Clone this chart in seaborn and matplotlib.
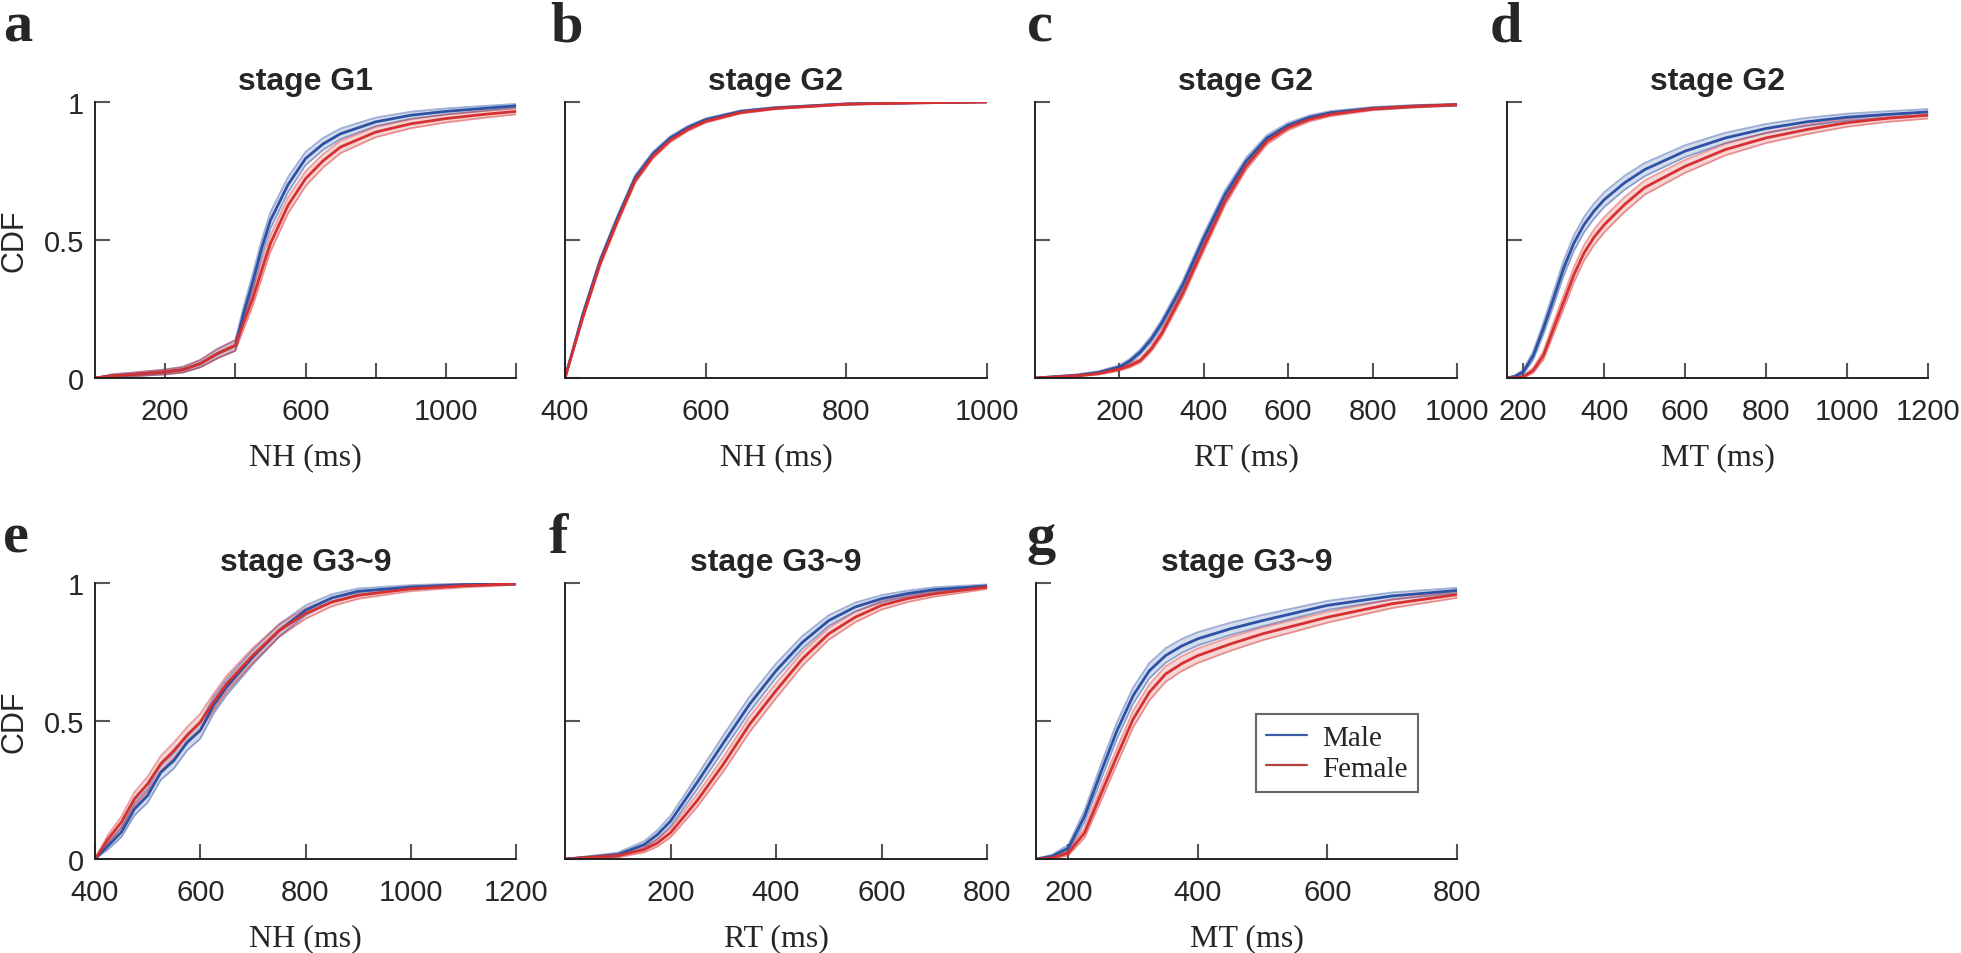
import matplotlib
matplotlib.use("Agg")
import matplotlib.pyplot as plt
from matplotlib.lines import Line2D
import numpy as np
import pandas as pd
import seaborn as sns

# CDF values (male / female), per panel
a_x = [0, 50, 100, 200, 250, 300, 350, 400, 425, 450, 475, 500, 550, 600, 650, 700, 800, 900, 1000, 1100, 1200]
a_male = [0, 0.008, 0.012, 0.022, 0.03, 0.052, 0.089, 0.118, 0.24, 0.35, 0.47, 0.571, 0.70, 0.795, 0.848, 0.885, 0.928, 0.952, 0.966, 0.976, 0.986]
a_female = [0, 0.008, 0.012, 0.022, 0.03, 0.052, 0.089, 0.118, 0.205, 0.29, 0.39, 0.487, 0.625, 0.722, 0.787, 0.837, 0.891, 0.921, 0.94, 0.954, 0.966]

b_x = [400, 425, 450, 475, 500, 525, 550, 575, 600, 650, 700, 800, 900, 1000]
b_male = [0, 0.227, 0.425, 0.582, 0.727, 0.812, 0.870, 0.908, 0.936, 0.966, 0.979, 0.993, 0.997, 1.0]
b_female = [0, 0.217, 0.415, 0.572, 0.717, 0.803, 0.862, 0.901, 0.930, 0.962, 0.977, 0.992, 0.997, 1.0]

c_x = [0, 100, 150, 200, 225, 250, 275, 300, 350, 400, 450, 500, 550, 600, 650, 700, 800, 900, 1000]
c_male = [0, 0.01, 0.02, 0.04, 0.062, 0.095, 0.14, 0.198, 0.337, 0.507, 0.664, 0.785, 0.87, 0.916, 0.944, 0.961, 0.977, 0.985, 0.99]
c_female = [0, 0.008, 0.016, 0.032, 0.045, 0.064, 0.105, 0.161, 0.307, 0.476, 0.64, 0.767, 0.858, 0.907, 0.937, 0.955, 0.975, 0.984, 0.99]

d_x = [160, 180, 200, 225, 250, 275, 300, 325, 350, 375, 400, 450, 500, 600, 700, 800, 900, 1000, 1100, 1200]
d_male = [0, 0.006, 0.022, 0.082, 0.18, 0.288, 0.398, 0.488, 0.555, 0.605, 0.646, 0.707, 0.755, 0.822, 0.87, 0.904, 0.928, 0.945, 0.955, 0.964]
d_female = [0, 0.001, 0.004, 0.028, 0.082, 0.18, 0.276, 0.373, 0.452, 0.51, 0.555, 0.628, 0.69, 0.767, 0.828, 0.87, 0.90, 0.925, 0.941, 0.952]

e_x = [400, 425, 450, 475, 500, 525, 550, 575, 600, 625, 650, 700, 750, 800, 850, 900, 1000, 1100, 1200]
e_male = [0, 0.048, 0.097, 0.181, 0.23, 0.314, 0.357, 0.423, 0.466, 0.556, 0.623, 0.732, 0.828, 0.901, 0.946, 0.97, 0.985, 0.994, 0.997]
e_female = [0, 0.073, 0.133, 0.218, 0.272, 0.345, 0.393, 0.448, 0.496, 0.568, 0.635, 0.738, 0.828, 0.889, 0.931, 0.955, 0.979, 0.99, 0.997]

f_x = [0, 50, 100, 150, 175, 200, 250, 300, 350, 400, 450, 500, 550, 600, 650, 700, 800]
f_male = [0, 0.007, 0.016, 0.052, 0.088, 0.137, 0.276, 0.42, 0.561, 0.682, 0.785, 0.864, 0.913, 0.943, 0.962, 0.976, 0.989]
f_female = [0, 0.006, 0.012, 0.034, 0.058, 0.095, 0.21, 0.343, 0.488, 0.61, 0.725, 0.816, 0.876, 0.919, 0.944, 0.961, 0.985]

g_x = [150, 175, 200, 225, 250, 275, 300, 325, 350, 375, 400, 450, 500, 600, 700, 800]
g_male = [0, 0.01, 0.04, 0.155, 0.313, 0.465, 0.592, 0.682, 0.737, 0.772, 0.798, 0.834, 0.864, 0.919, 0.953, 0.973]
g_female = [0, 0.004, 0.022, 0.095, 0.234, 0.373, 0.507, 0.604, 0.67, 0.708, 0.737, 0.779, 0.816, 0.876, 0.925, 0.958]

# half-width of the shaded band (male, female)
band_hw = {"a": (0.03, 0.03), "b": (0.01, 0.01), "c": (0.016, 0.016), "d": (0.028, 0.028),
           "e": (0.03, 0.03), "f": (0.028, 0.028), "g": (0.03, 0.03)}

letters = ["a", "b", "c", "d", "e", "f", "g"]
titles = ["stage G1", "stage G2", "stage G2", "stage G2", "stage G3~9", "stage G3~9", "stage G3~9"]
xlabels = ["NH (ms)", "NH (ms)", "RT (ms)", "MT (ms)", "NH (ms)", "RT (ms)", "MT (ms)"]
xlims = [(0, 1200), (400, 1000), (0, 1000), (160, 1200), (400, 1200), (0, 800), (150, 800)]
xticks = [[200, 400, 600, 800, 1000, 1200], [400, 600, 800, 1000], [200, 400, 600, 800, 1000],
          [200, 400, 600, 800, 1000, 1200], [400, 600, 800, 1000, 1200], [200, 400, 600, 800],
          [200, 400, 600, 800]]
xticklabels = [["200", "", "600", "", "1000", ""], None, None, None, None, None, None]
panel_data = [(a_x, a_male, a_female), (b_x, b_male, b_female), (c_x, c_male, c_female),
              (d_x, d_male, d_female), (e_x, e_male, e_female), (f_x, f_male, f_female),
              (g_x, g_male, g_female)]

sns.set_style("white")
plt.rcParams["font.family"] = ["Liberation Sans", "DejaVu Sans"]

W, H = 1961, 954
fig = plt.figure(figsize=(W / 100, H / 100), dpi=100)

# axes boxes in pixels: left, right, top, bottom
boxes = [(95, 516, 103, 379), (565, 987, 103, 379), (1035, 1457, 103, 379), (1507, 1928, 103, 379),
         (95, 516, 584, 860), (565, 987, 584, 860), (1036, 1457, 584, 860)]
letter_pos = [(3, 42), (550, 42), (1027, 42), (1490, 42), (3, 553), (549, 553), (1026, 553)]

palette = {"Male": "#2d52a5", "Female": "#d63030"}
serif = ["Liberation Serif", "DejaVu Serif"]

for i, (x, m, f) in enumerate(panel_data):
    l, r, t, b = boxes[i]
    ax = fig.add_axes([l / W, 1 - b / H, (r - l) / W, (b - t) / H])
    df = pd.DataFrame({"x": list(x) * 2, "cdf": list(m) + list(f),
                       "sex": ["Male"] * len(x) + ["Female"] * len(x)})
    hw_m, hw_f = band_hw[letters[i]]
    for sex, hw in (("Male", hw_m), ("Female", hw_f)):
        sub = df[df["sex"] == sex]
        xs = sub["x"].to_numpy()
        ys = sub["cdf"].to_numpy()
        # band narrows towards 0 and 1 like a CDF confidence band
        w = hw * np.sqrt(np.clip(4 * ys * (1 - ys), 0, 1))
        lo = ys - w
        hi = ys + w
        ax.fill_between(xs, lo, hi, color=palette[sex], alpha=0.2, linewidth=0)
        ax.plot(xs, lo, color=palette[sex], alpha=0.45, linewidth=1.3)
        ax.plot(xs, hi, color=palette[sex], alpha=0.45, linewidth=1.3)
    sns.lineplot(data=df, x="x", y="cdf", hue="sex", palette=palette, estimator=None,
                 sort=False, linewidth=2, legend=False, ax=ax)

    ax.set_xlim(*xlims[i])
    ax.set_ylim(0, 1)
    ax.set_xticks(xticks[i])
    if xticklabels[i] is not None:
        ax.set_xticklabels(xticklabels[i])
    ax.set_yticks([0, 0.5, 1])
    if letters[i] in ("a", "e"):
        ax.set_yticklabels(["0", "0.5", "1"])
        ax.set_ylabel("CDF", fontsize=22, labelpad=10)
    else:
        ax.set_yticklabels([])
        ax.set_ylabel("")
    ax.set_xlabel(xlabels[i], fontsize=23, family=serif, labelpad=12)
    ax.set_title(titles[i], fontsize=23, fontweight="bold", pad=9)
    ax.tick_params(bottom=True, left=True, direction="in", length=11, width=1.5,
                   color="#555555", labelsize=21)
    ax.tick_params(axis="x", pad=14)
    ax.tick_params(axis="y", pad=8)
    sns.despine(ax=ax)
    for s in ("left", "bottom"):
        ax.spines[s].set_linewidth(1.4)
        ax.spines[s].set_color("#222222")

    lx, ly = letter_pos[i]
    fig.text(lx / W, 1 - ly / H, letters[i], fontsize=42, fontweight="bold", family=serif,
             ha="left", va="baseline")

    if letters[i] == "g":
        handles = [Line2D([], [], color="#3a5ea8", lw=1.6), Line2D([], [], color="#b53e3e", lw=1.6)]
        leg = ax.legend(handles, ["Male", "Female"], loc="upper left", bbox_to_anchor=(0.523, 0.525),
                        borderaxespad=0, frameon=True, fancybox=False, framealpha=1,
                        handlelength=1.4, handletextpad=0.5, borderpad=0.35, labelspacing=0.15,
                        prop={"family": serif, "size": 21})
        leg.get_frame().set_edgecolor("#666666")
        leg.get_frame().set_linewidth(1.5)

fig.savefig("out.png", dpi=100)
